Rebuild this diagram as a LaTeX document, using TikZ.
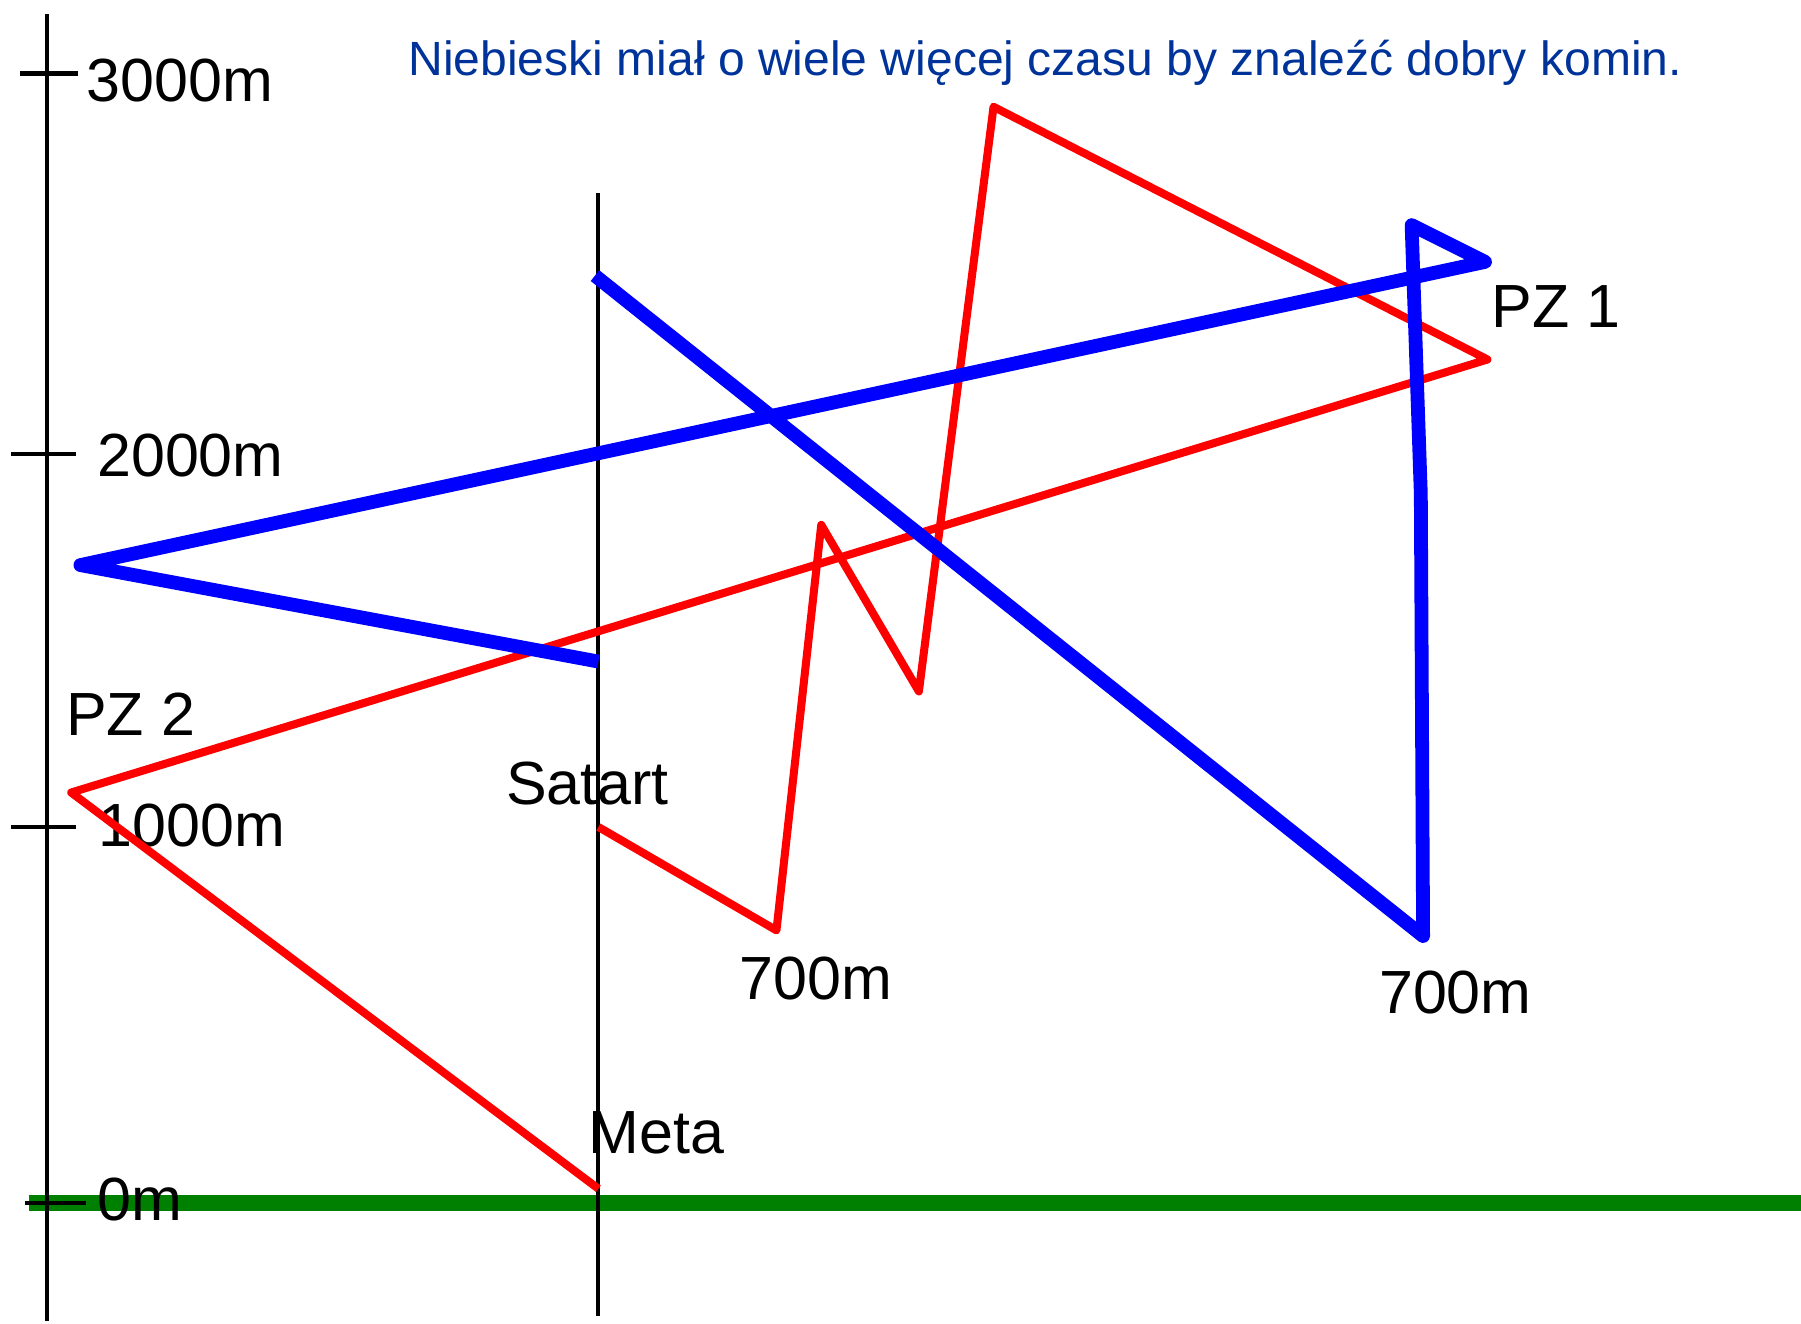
\documentclass[tikz,border=0pt]{standalone}
\usepackage{fontspec}
\setmainfont{Liberation Sans}
\definecolor{groundgreen}{RGB}{0,128,0}
\definecolor{titleblue}{RGB}{0,51,153}
\begin{document}
\begin{tikzpicture}[x=0.1mm,y=-0.1mm,
  axisline/.style={line width=0.35mm, black},
  redpath/.style={line width=0.7mm, red, line join=round},
  bluepath/.style={line width=1.2mm, blue, line join=round},
  ground/.style={line width=1.4mm, groundgreen},
  lbl/.style={inner sep=0pt, anchor=base west, font=\fontsize{15.1pt}{18pt}\selectfont},
  titletext/.style={inner sep=0pt, anchor=base west, text=titleblue, font=\fontsize{11.9pt}{14pt}\selectfont}]
\useasboundingbox (0,0) rectangle (1568,1152);
% coordinates
\coordinate (axTop) at (41,12);
\coordinate (axBot) at (41,1150);
\coordinate (stTop) at (521,168);
\coordinate (stBot) at (521,1146);
\coordinate (gL) at (25,1047);
\coordinate (gR) at (1568,1047);
\coordinate (t3a) at (17,64);   \coordinate (t3b) at (68,64);
\coordinate (t2a) at (10,395);  \coordinate (t2b) at (66,395);
\coordinate (t1a) at (10,720);  \coordinate (t1b) at (66,720);
\coordinate (t0a) at (22,1047); \coordinate (t0b) at (75,1047);
\coordinate (r0) at (521,720);
\coordinate (r1) at (676,810);
\coordinate (r2) at (715,457);
\coordinate (r3) at (800,602);
\coordinate (r4) at (865,93);
\coordinate (r5) at (1295,313);
\coordinate (r6) at (62,690);
\coordinate (r7) at (521,1035);
\coordinate (b0) at (518,240);
\coordinate (b1) at (1239,815);
\coordinate (b2) at (1237,430);
\coordinate (b3) at (1229,196);
\coordinate (b4) at (1293,228);
\coordinate (b5) at (70,492);
\coordinate (b6) at (521,576);
% ground
\draw[ground] (gL) -- (gR);
% axes
\draw[axisline] (axTop) -- (axBot);
\draw[axisline] (stTop) -- (stBot);
\draw[axisline] (t3a) -- (t3b);
\draw[axisline] (t2a) -- (t2b);
\draw[axisline] (t1a) -- (t1b);
\draw[axisline] (t0a) -- (t0b);
% labels
\node[lbl] (l3000) at (75,88) {3000m};
\node[lbl] (l2000) at (84,415) {2000m};
\node[lbl] (l1000) at (85,737) {1000m};
\node[lbl] (l0) at (84,1063) {0m};
\node[lbl] (pz1) at (1298,285) {PZ 1};
\node[lbl] (pz2) at (57,640) {PZ 2};
\node[lbl] (start) at (440,700) {Satart};
\node[lbl] (h700a) at (643,870) {700m};
\node[lbl] (h700b) at (1200,882) {700m};
\node[lbl] (meta) at (512,1004) {Meta};
% red flight
\draw[redpath] (r0) -- (r1) -- (r2) -- (r3) -- (r4) -- (r5) -- (r6) -- (r7);
% blue flight
\draw[bluepath] (b0) -- (b1) -- (b2) -- (b3) -- (b4) -- (b5) -- (b6);
% title
\node[titletext] (title) at (355,66) {Niebieski miał o wiele więcej czasu by znaleźć dobry komin.};
\end{tikzpicture}
\end{document}
